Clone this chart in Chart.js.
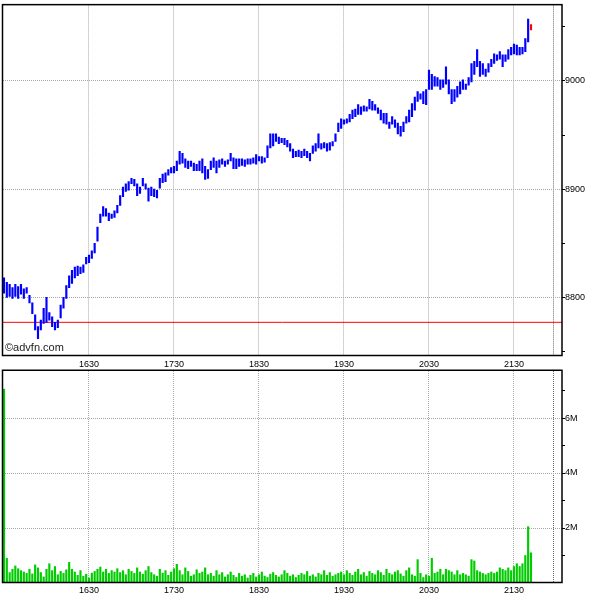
<!DOCTYPE html>
<html>
<head>
<meta charset="utf-8">
<script src="https://cdn.jsdelivr.net/npm/chart.js@4/dist/chart.umd.min.js"></script>
<style>
  html, body { margin: 0; padding: 0; background: #fff; }
  #wrap { position: relative; width: 600px; height: 600px; overflow: hidden; }
  #price { position: absolute; left: 0; top: 0; }
  #vol { position: absolute; left: 0; top: 360px; }
</style>
</head>
<body>
<div id="wrap">
  <canvas id="price" width="600" height="372"></canvas>
  <canvas id="vol" width="600" height="240"></canvas>
</div>
<script>
// ---------- DATA ----------
// bars every 2 minutes from 15:30 (minutes of day)
const startMinute = 930;
const barMinutes = 2;

const highs = [
  8818, 8814, 8812, 8809, 8812, 8810, 8812, 8808, 8809, 8802,
  8795, 8784, 8773, 8779, 8790, 8800, 8786, 8782, 8777, 8779,
  8793, 8800, 8811, 8820, 8825, 8828, 8829, 8828, 8830, 8837,
  8839, 8843, 8850, 8865, 8877, 8884, 8882, 8878, 8877, 8880,
  8885, 8894, 8902, 8905, 8907, 8910, 8909, 8905, 8902, 8910,
  8905, 8901, 8902, 8900, 8899, 8910, 8914, 8915, 8918, 8920,
  8921, 8926, 8935, 8933, 8928, 8926, 8926, 8924, 8923, 8926,
  8928, 8921, 8918, 8926, 8929, 8926, 8927, 8928, 8926, 8927,
  8933, 8929, 8928, 8928, 8928, 8927, 8928, 8928, 8929, 8932,
  8930, 8930, 8929, 8940, 8951, 8951, 8951, 8948, 8947, 8947,
  8945, 8942, 8937, 8935, 8936, 8935, 8937, 8935, 8933, 8940,
  8942, 8951, 8942, 8943, 8942, 8943, 8944, 8951, 8961, 8965,
  8964, 8965, 8969, 8973, 8974, 8978, 8976, 8977, 8976, 8983,
  8981, 8978, 8975, 8973, 8970, 8970, 8962, 8967, 8964, 8961,
  8958, 8962, 8967, 8973, 8979, 8985, 8990, 8988, 8990, 8992,
  9010, 9006, 9004, 9003, 9001, 9001, 9013, 9001, 8992, 8992,
  8995, 8999, 9001, 8997, 9003, 9016, 9018, 9029, 9018, 9016,
  9011, 9016, 9020, 9025, 9024, 9027, 9024, 9024, 9029, 9031,
  9034, 9033, 9031, 9031, 9039, 9057, 9052
];
const lows = [
  8804, 8800, 8801, 8799, 8801, 8799, 8803, 8799, 8804, 8795,
  8785, 8770, 8762, 8770, 8776, 8777, 8779, 8773, 8770, 8772,
  8781, 8790, 8799, 8809, 8813, 8818, 8820, 8822, 8823, 8831,
  8832, 8836, 8841, 8852, 8869, 8875, 8875, 8871, 8873, 8874,
  8878, 8885, 8893, 8898, 8899, 8905, 8903, 8894, 8896, 8903,
  8900, 8889, 8894, 8893, 8892, 8901, 8906, 8907, 8913, 8915,
  8915, 8917, 8923, 8924, 8920, 8919, 8921, 8917, 8917, 8917,
  8915, 8909, 8910, 8918, 8920, 8915, 8920, 8923, 8921, 8923,
  8926, 8919, 8919, 8921, 8922, 8921, 8923, 8923, 8924, 8923,
  8926, 8924, 8925, 8929, 8938, 8940, 8944, 8942, 8943, 8941,
  8939, 8935, 8929, 8930, 8930, 8929, 8931, 8929, 8926, 8933,
  8935, 8938, 8937, 8938, 8935, 8936, 8940, 8944, 8953, 8956,
  8960, 8961, 8962, 8965, 8967, 8969, 8969, 8972, 8972, 8974,
  8973, 8973, 8970, 8964, 8961, 8960, 8956, 8960, 8957, 8951,
  8949, 8953, 8961, 8962, 8967, 8973, 8981, 8983, 8979, 8978,
  8992, 8992, 8995, 8995, 8992, 8994, 8997, 8988, 8979, 8981,
  8985, 8988, 8992, 8992, 8996, 8999, 9006, 9013, 9004, 9006,
  9004, 9008, 9013, 9016, 9019, 9020, 9013, 9018, 9020, 9024,
  9025, 9024, 9024, 9025, 9027, 9036, 9047
];
// volume in millions
const volumes = [
  7.05, 0.9, 0.38, 0.5, 0.62, 0.52, 0.45, 0.4, 0.35, 0.5,
  0.33, 0.66, 0.55, 0.38, 0.22, 0.5, 0.7, 0.45, 0.6, 0.3,
  0.42, 0.35, 0.48, 0.75, 0.5, 0.4, 0.28, 0.45, 0.25, 0.32,
  0.18, 0.36, 0.42, 0.5, 0.58, 0.4, 0.5, 0.35, 0.45, 0.4,
  0.52, 0.38, 0.45, 0.3, 0.5, 0.42, 0.35, 0.55, 0.4, 0.32,
  0.45, 0.6, 0.38, 0.3, 0.25, 0.5, 0.36, 0.45, 0.28, 0.4,
  0.52, 0.68, 0.45, 0.3, 0.55, 0.42, 0.25, 0.3, 0.48, 0.35,
  0.4, 0.55, 0.3, 0.35, 0.25, 0.45, 0.3, 0.38, 0.22, 0.3,
  0.4, 0.28, 0.2, 0.35, 0.25, 0.3, 0.18, 0.28, 0.35, 0.22,
  0.3, 0.4, 0.25, 0.2, 0.32, 0.38, 0.28, 0.22, 0.3, 0.45,
  0.35, 0.25, 0.3, 0.2, 0.28, 0.35, 0.3, 0.42, 0.25, 0.3,
  0.22, 0.35, 0.3, 0.45, 0.28, 0.38, 0.25, 0.3, 0.35, 0.4,
  0.3, 0.45, 0.35, 0.28, 0.4, 0.5, 0.3, 0.38, 0.25, 0.42,
  0.35, 0.3, 0.45, 0.38, 0.28, 0.5, 0.35, 0.3, 0.4, 0.45,
  0.33, 0.25, 0.45, 0.55, 0.3, 0.25, 0.85, 0.35, 0.2, 0.3,
  0.25, 0.9, 0.35, 0.4, 0.5, 0.3, 0.5, 0.45, 0.4, 0.3,
  0.45, 0.3, 0.35, 0.3, 0.25, 0.85, 0.8, 0.45, 0.4, 0.35,
  0.3, 0.35, 0.4, 0.35, 0.4, 0.55, 0.5, 0.45, 0.55, 0.45,
  0.6, 0.7, 0.6, 0.7, 1.0, 2.05, 1.1
];

const refLevel = 8777;                 // red reference line
const timeTicks = [990, 1050, 1110, 1170, 1230, 1290]; // 1630 .. 2130
const sessionEnd = 1318;               // dark dashed line
const priceTicks = [8750, 8800, 8850, 8900, 8950, 9000, 9050];
const volumeTicks = [1, 2, 3, 4, 5, 6, 7];

// ---------- SCALE RANGES ----------
const viewStart = 929.3, viewEnd = 1323.9;
const priceMin = 8745.9, priceMax = 9069.7;
const volMin = 0, volMax = 7.71;

// ---------- HELPERS ----------
const times = highs.map((_, i) => startMinute + i * barMinutes);
const fmtTime = v => Math.floor(v / 60) + String(Math.round(v % 60)).padStart(2, "0");

Chart.defaults.font.family = "'Liberation Sans', Arial, sans-serif";
Chart.defaults.font.size = 9;
Chart.defaults.color = "#000";

const GRID = "#a8a8a8";

function timeAxis(labelPad, axisHeight) {
  return {
    type: "linear",
    min: viewStart,
    max: viewEnd,
    offset: false,
    afterBuildTicks: s => { s.ticks = timeTicks.concat([sessionEnd]).map(v => ({ value: v })); },
    afterFit: s => { s.height = axisHeight; },
    grid: {
      offset: false,
      drawTicks: false,
      color: c => (c.tick && c.tick.value === sessionEnd ? "#6a6a6a" : GRID)
    },
    border: { display: false, dash: [1, 1] },
    ticks: {
      autoSkip: false,
      maxRotation: 0,
      padding: labelPad,
      callback: v => (v === sessionEnd ? "" : fmtTime(v))
    }
  };
}

function frame(label) {
  return {
    id: "frame",
    afterDraw(chart) {
      const { ctx, chartArea: a } = chart;
      ctx.save();
      ctx.strokeStyle = "#000";
      ctx.lineWidth = 1.5;
      ctx.strokeRect(a.left - 0.5, a.top - 0.75, a.right - a.left + 0.5, a.bottom - a.top + 0.25);
      if (label) {
        ctx.fillStyle = "#222";
        ctx.font = "11px 'Liberation Sans', Arial, sans-serif";
        ctx.textBaseline = "alphabetic";
        ctx.fillText(label, a.left + 2, a.bottom - 5);
      }
      ctx.restore();
    }
  };
}

// ---------- PRICE PANEL ----------
new Chart(document.getElementById("price"), {
  type: "bar",
  data: {
    datasets: [
      {
        data: times.map((t, i) => ({ x: t, y: [lows[i], highs[i]] })),
        backgroundColor: c => (c.dataIndex === highs.length - 1 ? "#ff0000" : "#0000ff"),
        borderWidth: 0,
        barThickness: 1.5,
        order: 1
      },
      {
        type: "line",
        data: [{ x: viewStart, y: refLevel }, { x: viewEnd, y: refLevel }],
        borderColor: "#ff0000",
        borderWidth: 1,
        pointRadius: 0,
        order: 2
      }
    ]
  },
  options: {
    responsive: false,
    animation: false,
    devicePixelRatio: 1,
    layout: { padding: { left: 3, top: 3, right: 0, bottom: 0 } },
    plugins: { legend: { display: false }, tooltip: { enabled: false } },
    scales: {
      x: timeAxis(3, 16),
      y: {
        position: "right",
        min: priceMin,
        max: priceMax,
        afterBuildTicks: s => { s.ticks = priceTicks.map(v => ({ value: v })); },
        afterFit: s => { s.width = 38; },
        grid: {
          color: c => (c.tick && c.tick.value % 100 === 0 ? GRID : "rgba(0,0,0,0)"),
          tickColor: "#000",
          tickLength: 3
        },
        border: { display: false, dash: [1, 1] },
        ticks: { padding: 0, callback: v => (v % 100 === 0 ? String(v) : "") }
      }
    }
  },
  plugins: [frame("\u00a9advfn.com")]
});

// ---------- VOLUME PANEL ----------
new Chart(document.getElementById("vol"), {
  type: "bar",
  data: {
    datasets: [
      {
        data: times.map((t, i) => ({ x: t, y: volumes[i] })),
        backgroundColor: "#00cc00",
        borderWidth: 0,
        barThickness: 1.5
      }
    ]
  },
  options: {
    responsive: false,
    animation: false,
    devicePixelRatio: 1,
    layout: { padding: { left: 3, top: 11, right: 0, bottom: 0 } },
    plugins: { legend: { display: false }, tooltip: { enabled: false } },
    scales: {
      x: timeAxis(2, 17),
      y: {
        position: "right",
        min: volMin,
        max: volMax,
        afterBuildTicks: s => { s.ticks = volumeTicks.map(v => ({ value: v })); },
        afterFit: s => { s.width = 38; },
        grid: {
          color: c => (c.tick && c.tick.value % 2 === 0 ? GRID : "rgba(0,0,0,0)"),
          tickColor: "#000",
          tickLength: 3
        },
        border: { display: false, dash: [1, 1] },
        ticks: { padding: 0, callback: v => (v % 2 === 0 ? v + "M" : "") }
      }
    }
  },
  plugins: [frame(null)]
});
</script>
</body>
</html>
